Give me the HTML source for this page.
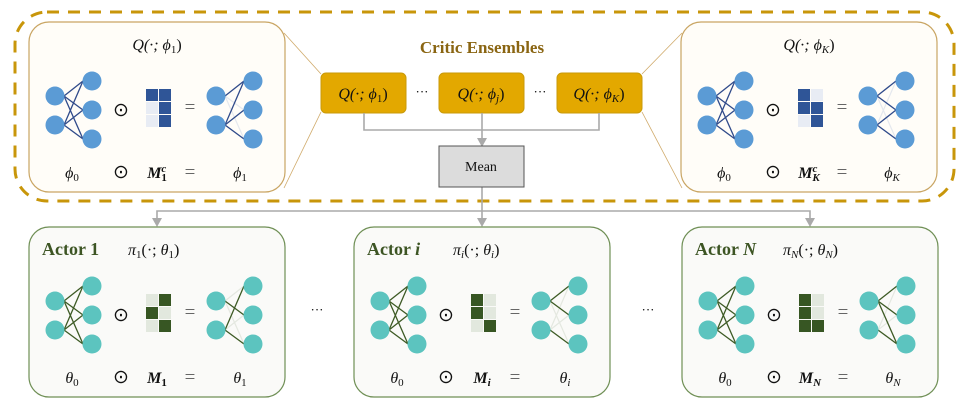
<!DOCTYPE html>
<html><head><meta charset="utf-8"><style>
html,body{margin:0;padding:0;background:#fff;}
svg{display:block;}
text{font-family:"Liberation Serif",serif;}
.m{font-style:italic;font-size:16px;fill:#111;}
.op{font-size:19px;fill:#111;}
</style></head><body>
<svg width="967" height="402" viewBox="0 0 967 402" xmlns="http://www.w3.org/2000/svg">
<defs>
  <g id="fullB" stroke="#2f4a8a" stroke-width="1.3">
    <line x1="35" y1="74" x2="54" y2="59"/><line x1="35" y1="74" x2="54" y2="88"/><line x1="35" y1="74" x2="54" y2="117"/>
    <line x1="35" y1="103" x2="54" y2="59"/><line x1="35" y1="103" x2="54" y2="88"/><line x1="35" y1="103" x2="54" y2="117"/>
  </g>
  <g id="fullG" stroke="#3d5a24" stroke-width="1.3">
    <line x1="35" y1="74" x2="54" y2="59"/><line x1="35" y1="74" x2="54" y2="88"/><line x1="35" y1="74" x2="54" y2="117"/>
    <line x1="35" y1="103" x2="54" y2="59"/><line x1="35" y1="103" x2="54" y2="88"/><line x1="35" y1="103" x2="54" y2="117"/>
  </g>
  <g id="nodesB" fill="#5b9bd5">
    <circle cx="26" cy="74" r="9.5"/><circle cx="26" cy="103" r="9.5"/>
    <circle cx="63" cy="59" r="9.5"/><circle cx="63" cy="88" r="9.5"/><circle cx="63" cy="117" r="9.5"/>
  </g>
  <g id="nodesG" fill="#5cc4bf">
    <circle cx="26" cy="74" r="9.5"/><circle cx="26" cy="103" r="9.5"/>
    <circle cx="63" cy="59" r="9.5"/><circle cx="63" cy="88" r="9.5"/><circle cx="63" cy="117" r="9.5"/>
  </g>
</defs>

<rect x="15" y="12" width="939" height="189" rx="32" fill="none" stroke="#c8960a" stroke-width="3" stroke-dasharray="12,9"/>

<line x1="284" y1="33" x2="321" y2="74" stroke="#d0aa6a" stroke-width="0.8"/>
<line x1="321" y1="112" x2="284" y2="188" stroke="#d0aa6a" stroke-width="0.8"/>
<line x1="642" y1="74" x2="682" y2="33" stroke="#d0aa6a" stroke-width="0.8"/>
<line x1="642" y1="112" x2="682" y2="188" stroke="#d0aa6a" stroke-width="0.8"/>

<!-- Critic box 1 -->
<g transform="translate(29,22)">
  <rect x="0" y="0" width="256" height="170" rx="20" fill="#fffdf8" stroke="#c9a563" stroke-width="1.2"/>
  <text x="128" y="28" text-anchor="middle" class="m">Q(·; ϕ<tspan font-size="11" dy="3" font-style="normal">1</tspan><tspan dy="-3" font-style="normal">)</tspan></text>
  <use href="#fullB"/><use href="#nodesB"/>
  <text x="92" y="94" class="op" text-anchor="middle">⊙</text>
  <g>
    <rect x="117" y="67" width="12" height="12" fill="#2f5597"/><rect x="130" y="67" width="12" height="12" fill="#2f5597"/>
    <rect x="117" y="80" width="12" height="12" fill="#e8ecf4"/><rect x="130" y="80" width="12" height="12" fill="#2f5597"/>
    <rect x="117" y="93" width="12" height="12" fill="#e8ecf4"/><rect x="130" y="93" width="12" height="12" fill="#2f5597"/>
  </g>
  <text x="161" y="91" class="op" text-anchor="middle" style="fill:#666">=</text>
  <g transform="translate(161,0)">
    <g stroke="#e4e8ee" stroke-width="1.2"><line x1="35" y1="74" x2="54" y2="88"/><line x1="35" y1="74" x2="54" y2="117"/></g>
    <g stroke="#2f4a8a" stroke-width="1.3"><line x1="35" y1="74" x2="54" y2="59"/><line x1="35" y1="103" x2="54" y2="59"/><line x1="35" y1="103" x2="54" y2="88"/><line x1="35" y1="103" x2="54" y2="117"/></g>
    <use href="#nodesB"/>
  </g>
  <text x="43" y="156" class="m" text-anchor="middle">ϕ<tspan font-size="11" dy="3" font-style="normal">0</tspan></text>
  <text x="92" y="156" class="op" text-anchor="middle">⊙</text>
  <text x="128" y="156" class="m" text-anchor="middle" font-weight="bold">M<tspan font-size="11" dy="-6">c</tspan><tspan font-size="11" dy="9" dx="-5" font-style="normal">1</tspan></text>
  <text x="161" y="156" class="op" text-anchor="middle" style="fill:#666">=</text>
  <text x="211" y="156" class="m" text-anchor="middle">ϕ<tspan font-size="11" dy="3" font-style="normal">1</tspan></text>
</g>

<!-- Critic box K -->
<g transform="translate(681,22)">
  <rect x="0" y="0" width="256" height="170" rx="20" fill="#fffdf8" stroke="#c9a563" stroke-width="1.2"/>
  <text x="128" y="28" text-anchor="middle" class="m">Q(·; ϕ<tspan font-size="11" dy="3">K</tspan><tspan dy="-3" font-style="normal">)</tspan></text>
  <use href="#fullB"/><use href="#nodesB"/>
  <text x="92" y="94" class="op" text-anchor="middle">⊙</text>
  <g>
    <rect x="117" y="67" width="12" height="12" fill="#2f5597"/><rect x="130" y="67" width="12" height="12" fill="#e8ecf4"/>
    <rect x="117" y="80" width="12" height="12" fill="#2f5597"/><rect x="130" y="80" width="12" height="12" fill="#2f5597"/>
    <rect x="117" y="93" width="12" height="12" fill="#e8ecf4"/><rect x="130" y="93" width="12" height="12" fill="#2f5597"/>
  </g>
  <text x="161" y="91" class="op" text-anchor="middle" style="fill:#666">=</text>
  <g transform="translate(161,0)">
    <g stroke="#e4e8ee" stroke-width="1.2"><line x1="35" y1="74" x2="54" y2="117"/><line x1="35" y1="103" x2="54" y2="59"/></g>
    <g stroke="#2f4a8a" stroke-width="1.3"><line x1="35" y1="74" x2="54" y2="59"/><line x1="35" y1="74" x2="54" y2="88"/><line x1="35" y1="103" x2="54" y2="88"/><line x1="35" y1="103" x2="54" y2="117"/></g>
    <use href="#nodesB"/>
  </g>
  <text x="43" y="156" class="m" text-anchor="middle">ϕ<tspan font-size="11" dy="3" font-style="normal">0</tspan></text>
  <text x="92" y="156" class="op" text-anchor="middle">⊙</text>
  <text x="128" y="156" class="m" text-anchor="middle" font-weight="bold">M<tspan font-size="11" dy="-6">c</tspan><tspan font-size="11" dy="9" dx="-5">K</tspan></text>
  <text x="161" y="156" class="op" text-anchor="middle" style="fill:#666">=</text>
  <text x="211" y="156" class="m" text-anchor="middle">ϕ<tspan font-size="11" dy="3">K</tspan></text>
</g>

<text x="482" y="53" text-anchor="middle" font-size="17" font-weight="bold" fill="#8a6512">Critic Ensembles</text>
<g stroke="#c99a0a" stroke-width="1" fill="#e3a800">
  <rect x="321" y="73" width="85" height="40" rx="5"/>
  <rect x="439" y="73" width="85" height="40" rx="5"/>
  <rect x="557" y="73" width="85" height="40" rx="5"/>
</g>
<text x="363" y="99" text-anchor="middle" class="m">Q(·; ϕ<tspan font-size="11" dy="3" font-style="normal">1</tspan><tspan dy="-3" font-style="normal">)</tspan></text>
<text x="481" y="99" text-anchor="middle" class="m">Q(·; ϕ<tspan font-size="11" dy="3">j</tspan><tspan dy="-3" font-style="normal">)</tspan></text>
<text x="599" y="99" text-anchor="middle" class="m">Q(·; ϕ<tspan font-size="11" dy="3">K</tspan><tspan dy="-3" font-style="normal">)</tspan></text>
<text x="422" y="96" text-anchor="middle" font-size="13">···</text>
<text x="540" y="96" text-anchor="middle" font-size="13">···</text>

<g stroke="#aaa" stroke-width="1.6" fill="none">
  <polyline points="364,113 364,130 599,130 599,113"/>
  <line x1="482" y1="113" x2="482" y2="139"/>
  <line x1="482" y1="187" x2="482" y2="211"/>
  <polyline points="157,219 157,211 810,211 810,219"/>
  <line x1="482" y1="211" x2="482" y2="219"/>
</g>
<g fill="#aaa">
  <polygon points="477,138 487,138 482,147"/>
  <polygon points="152,218 162,218 157,227"/>
  <polygon points="477,218 487,218 482,227"/>
  <polygon points="805,218 815,218 810,227"/>
</g>
<rect x="439" y="146" width="85" height="41" fill="#dcdcdc" stroke="#555" stroke-width="1"/>
<text x="481" y="171" text-anchor="middle" font-size="14" fill="#111">Mean</text>

<!-- Actor 1 -->
<g transform="translate(29,227)">
  <rect x="0" y="0" width="256" height="170" rx="20" fill="#fafaf8" stroke="#6f8f55" stroke-width="1.2"/>
  <text x="13" y="28" font-size="18" font-weight="bold" fill="#3d5524">Actor 1</text>
  <text x="99" y="28" class="m">π<tspan font-size="11" dy="3" font-style="normal">1</tspan><tspan dy="-3" font-style="normal">(·; </tspan>θ<tspan font-size="11" dy="3" font-style="normal">1</tspan><tspan dy="-3" font-style="normal">)</tspan></text>
  <use href="#fullG"/><use href="#nodesG"/>
  <text x="92" y="94" class="op" text-anchor="middle">⊙</text>
  <g>
    <rect x="117" y="67" width="12" height="12" fill="#e2e8de"/><rect x="130" y="67" width="12" height="12" fill="#375623"/>
    <rect x="117" y="80" width="12" height="12" fill="#375623"/><rect x="130" y="80" width="12" height="12" fill="#e2e8de"/>
    <rect x="117" y="93" width="12" height="12" fill="#e2e8de"/><rect x="130" y="93" width="12" height="12" fill="#375623"/>
  </g>
  <text x="161" y="91" class="op" text-anchor="middle" style="fill:#666">=</text>
  <g transform="translate(161,0)">
    <g stroke="#e4e8e0" stroke-width="1.2"><line x1="35" y1="74" x2="54" y2="59"/><line x1="35" y1="74" x2="54" y2="117"/><line x1="35" y1="103" x2="54" y2="88"/></g>
    <g stroke="#3d5a24" stroke-width="1.3"><line x1="35" y1="74" x2="54" y2="88"/><line x1="35" y1="103" x2="54" y2="59"/><line x1="35" y1="103" x2="54" y2="117"/></g>
    <use href="#nodesG"/>
  </g>
  <text x="43" y="156" class="m" text-anchor="middle">θ<tspan font-size="11" dy="3" font-style="normal">0</tspan></text>
  <text x="92" y="156" class="op" text-anchor="middle">⊙</text>
  <text x="128" y="156" class="m" text-anchor="middle" font-weight="bold">M<tspan font-size="11" dy="3" font-style="normal">1</tspan></text>
  <text x="161" y="156" class="op" text-anchor="middle" style="fill:#666">=</text>
  <text x="211" y="156" class="m" text-anchor="middle">θ<tspan font-size="11" dy="3" font-style="normal">1</tspan></text>
</g>

<!-- Actor i -->
<g transform="translate(354,227)">
  <rect x="0" y="0" width="256" height="170" rx="20" fill="#fafaf8" stroke="#6f8f55" stroke-width="1.2"/>
  <text x="13" y="28" font-size="18" font-weight="bold" fill="#3d5524">Actor <tspan font-style="italic">i</tspan></text>
  <text x="99" y="28" class="m">π<tspan font-size="11" dy="3">i</tspan><tspan dy="-3" font-style="normal">(·; </tspan>θ<tspan font-size="11" dy="3">i</tspan><tspan dy="-3" font-style="normal">)</tspan></text>
  <use href="#fullG"/><use href="#nodesG"/>
  <text x="92" y="94" class="op" text-anchor="middle">⊙</text>
  <g>
    <rect x="117" y="67" width="12" height="12" fill="#375623"/><rect x="130" y="67" width="12" height="12" fill="#e2e8de"/>
    <rect x="117" y="80" width="12" height="12" fill="#375623"/><rect x="130" y="80" width="12" height="12" fill="#e2e8de"/>
    <rect x="117" y="93" width="12" height="12" fill="#e2e8de"/><rect x="130" y="93" width="12" height="12" fill="#375623"/>
  </g>
  <text x="161" y="91" class="op" text-anchor="middle" style="fill:#666">=</text>
  <g transform="translate(161,0)">
    <g stroke="#e4e8e0" stroke-width="1.2"><line x1="35" y1="74" x2="54" y2="117"/><line x1="35" y1="103" x2="54" y2="59"/><line x1="35" y1="103" x2="54" y2="88"/></g>
    <g stroke="#3d5a24" stroke-width="1.3"><line x1="35" y1="74" x2="54" y2="59"/><line x1="35" y1="74" x2="54" y2="88"/><line x1="35" y1="103" x2="54" y2="117"/></g>
    <use href="#nodesG"/>
  </g>
  <text x="43" y="156" class="m" text-anchor="middle">θ<tspan font-size="11" dy="3" font-style="normal">0</tspan></text>
  <text x="92" y="156" class="op" text-anchor="middle">⊙</text>
  <text x="128" y="156" class="m" text-anchor="middle" font-weight="bold">M<tspan font-size="11" dy="3">i</tspan></text>
  <text x="161" y="156" class="op" text-anchor="middle" style="fill:#666">=</text>
  <text x="211" y="156" class="m" text-anchor="middle">θ<tspan font-size="11" dy="3">i</tspan></text>
</g>

<!-- Actor N -->
<g transform="translate(682,227)">
  <rect x="0" y="0" width="256" height="170" rx="20" fill="#fafaf8" stroke="#6f8f55" stroke-width="1.2"/>
  <text x="13" y="28" font-size="18" font-weight="bold" fill="#3d5524">Actor <tspan font-style="italic">N</tspan></text>
  <text x="101" y="28" class="m">π<tspan font-size="11" dy="3">N</tspan><tspan dy="-3" font-style="normal">(·; </tspan>θ<tspan font-size="11" dy="3">N</tspan><tspan dy="-3" font-style="normal">)</tspan></text>
  <use href="#fullG"/><use href="#nodesG"/>
  <text x="92" y="94" class="op" text-anchor="middle">⊙</text>
  <g>
    <rect x="117" y="67" width="12" height="12" fill="#375623"/><rect x="130" y="67" width="12" height="12" fill="#e2e8de"/>
    <rect x="117" y="80" width="12" height="12" fill="#375623"/><rect x="130" y="80" width="12" height="12" fill="#e2e8de"/>
    <rect x="117" y="93" width="12" height="12" fill="#375623"/><rect x="130" y="93" width="12" height="12" fill="#375623"/>
  </g>
  <text x="161" y="91" class="op" text-anchor="middle" style="fill:#666">=</text>
  <g transform="translate(161,0)">
    <g stroke="#e4e8e0" stroke-width="1.2"><line x1="35" y1="103" x2="54" y2="59"/><line x1="35" y1="103" x2="54" y2="88"/></g>
    <g stroke="#3d5a24" stroke-width="1.3"><line x1="35" y1="74" x2="54" y2="59"/><line x1="35" y1="74" x2="54" y2="88"/><line x1="35" y1="74" x2="54" y2="117"/><line x1="35" y1="103" x2="54" y2="117"/></g>
    <use href="#nodesG"/>
  </g>
  <text x="43" y="156" class="m" text-anchor="middle">θ<tspan font-size="11" dy="3" font-style="normal">0</tspan></text>
  <text x="92" y="156" class="op" text-anchor="middle">⊙</text>
  <text x="128" y="156" class="m" text-anchor="middle" font-weight="bold">M<tspan font-size="11" dy="3">N</tspan></text>
  <text x="161" y="156" class="op" text-anchor="middle" style="fill:#666">=</text>
  <text x="211" y="156" class="m" text-anchor="middle">θ<tspan font-size="11" dy="3">N</tspan></text>
</g>

<text x="317" y="314" text-anchor="middle" font-size="13">···</text>
<text x="648" y="314" text-anchor="middle" font-size="13">···</text>
</svg>
</body></html>
